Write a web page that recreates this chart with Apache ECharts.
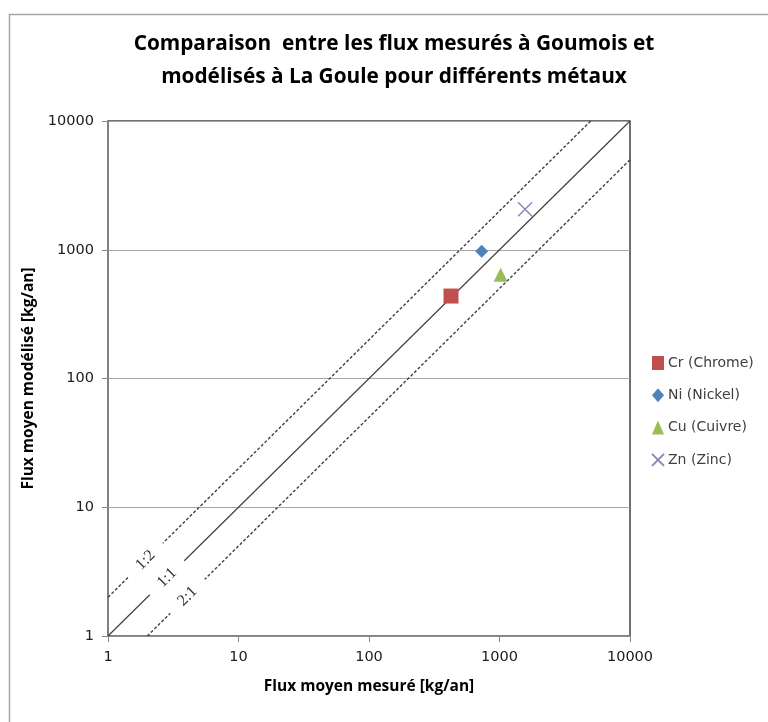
<!DOCTYPE html>
<html>
<head>
<meta charset="utf-8">
<script src="https://cdn.jsdelivr.net/npm/echarts@6/dist/echarts.min.js"></script>
<style>
html,body{margin:0;padding:0;background:#fff;}
#chart{width:768px;height:722px;}
</style>
</head>
<body>
<div id="chart"></div>
<script>
// ---- data ----
const titleText = 'Comparaison  entre les flux mesurés à Goumois et\nmodélisés à La Goule pour différents métaux';
const xAxisName = 'Flux moyen mesuré [kg/an]';
const yAxisName = 'Flux moyen modélisé [kg/an]';
const metalNames = ['Cr (Chrome)', 'Ni (Nickel)', 'Cu (Cuivre)', 'Zn (Zinc)'];
const measuredFlux = [425, 730, 1020, 1570];
const modelledFlux = [437, 975, 640, 2060];
const line11 = [[1, 1], [10000, 10000]];
const line12 = [[1, 2], [5000, 10000]];
const line21 = [[2, 1], [10000, 5000]];
const ratioLabelText = ['1:2', '1:1', '2:1'];
const ratioLabelX = [1.94, 2.83, 4.07];
const ratioLabelY = [3.88, 2.83, 2.03];

// ---- styles ----
const metalColors = ['#c0504d', '#4f81bd', '#9bbb59', '#9483bb'];
const metalSymbols = ['rect', 'diamond', 'triangle', 'path://M0,0L10,10M10,0L0,10'];
const metalSizes = [15, 13, 14, 14];
const TITLE_FONT = '"Open Sans", Lato, sans-serif';
const TEXT_FONT = '"DejaVu Sans", "Open Sans", sans-serif';

const chart = echarts.init(document.getElementById('chart'));

const metalSeries = metalNames.map((name, i) => ({
  name: name,
  type: 'scatter',
  symbol: metalSymbols[i],
  symbolSize: metalSizes[i],
  z: 6,
  itemStyle: i === 3
    ? { color: 'rgba(0,0,0,0)', borderColor: metalColors[i], borderWidth: 1.5, opacity: 1 }
    : { color: metalColors[i], opacity: 1 },
  data: [[measuredFlux[i], modelledFlux[i]]]
}));

const refLine = (data, dashed) => ({
  type: 'line',
  data: data,
  symbol: 'none',
  silent: true,
  z: 3,
  lineStyle: { color: '#404040', width: dashed ? 1.4 : 1.2, type: dashed ? [3, 2] : 'solid' }
});

const option = {
  backgroundColor: '#ffffff',
  animation: false,
  graphic: [{
    type: 'rect',
    left: 7, top: 12,
    shape: { width: 800, height: 800 },
    style: { fill: 'none', stroke: '#a6a6a6', lineWidth: 1.5 },
    z: -1
  }],
  title: {
    text: titleText,
    left: 389,
    top: 23,
    textAlign: 'center',
    textStyle: { fontFamily: TITLE_FONT, fontSize: 20.8, fontWeight: 'bold', color: '#000', lineHeight: 33 }
  },
  legend: {
    orient: 'vertical',
    left: 646,
    top: 351,
    itemWidth: 12,
    itemHeight: 14,
    itemGap: 18.3,
    data: metalNames,
    textStyle: { fontFamily: TEXT_FONT, fontSize: 14, lineHeight: 14, color: '#404040', padding: [0, 0, 0, -1] }
  },
  grid: {
    left: 108, right: 138, top: 121, bottom: 86,
    show: true,
    borderColor: '#404040',
    borderWidth: 1.5
  },
  xAxis: {
    type: 'log', logBase: 10, min: 1, max: 10000,
    name: xAxisName,
    nameLocation: 'middle',
    nameGap: 43,
    nameTextStyle: { fontFamily: TITLE_FONT, fontSize: 15.5, fontWeight: 'bold', color: '#000' },
    axisLine: { show: true, lineStyle: { color: '#868686', width: 1.5 } },
    axisTick: { show: true, length: 6, lineStyle: { color: '#868686' } },
    minorTick: { show: false },
    splitLine: { show: false },
    axisLabel: { fontFamily: TEXT_FONT, fontSize: 14.5, color: '#202020', margin: 14, formatter: v => String(Math.round(v)) }
  },
  yAxis: {
    type: 'log', logBase: 10, min: 1, max: 10000,
    name: yAxisName,
    nameLocation: 'middle',
    nameGap: 69,
    nameRotate: 90,
    nameTextStyle: { fontFamily: TITLE_FONT, fontSize: 15.5, fontWeight: 'bold', color: '#000' },
    axisLine: { show: true, lineStyle: { color: '#868686', width: 1.5 } },
    axisTick: { show: true, length: 6, lineStyle: { color: '#868686' } },
    minorTick: { show: false },
    splitLine: { show: true, lineStyle: { color: '#a6a6a6', width: 1.2 } },
    axisLabel: { fontFamily: TEXT_FONT, fontSize: 14.5, color: '#202020', margin: 14, formatter: v => String(Math.round(v)) }
  },
  series: [
    refLine(line11, false),
    refLine(line12, true),
    refLine(line21, true),
    {
      type: 'custom',
      silent: true,
      z: 5,
      data: ratioLabelText.map((t, i) => [ratioLabelX[i], ratioLabelY[i], i]),
      renderItem: (params, api) => {
        const pt = api.coord([api.value(0), api.value(1)]);
        return {
          type: 'text',
          x: pt[0], y: pt[1],
          rotation: Math.PI / 4,
          style: {
            text: ratioLabelText[api.value(2)],
            font: '16px "Liberation Serif", "DejaVu Serif", serif',
            fill: '#333333',
            align: 'center',
            verticalAlign: 'middle',
            backgroundColor: '#ffffff',
            padding: [1, 14]
          }
        };
      }
    },
    ...metalSeries
  ]
};
chart.setOption(option);
</script>
</body>
</html>
